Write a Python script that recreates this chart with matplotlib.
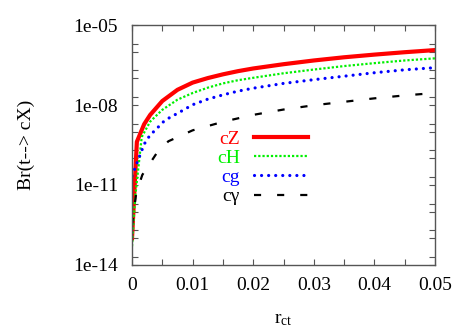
import numpy as np
import matplotlib
matplotlib.use('Agg')
import matplotlib.pyplot as plt
from matplotlib.ticker import FixedLocator, MultipleLocator, NullFormatter

plt.rcParams['font.family'] = ['Liberation Serif', 'DejaVu Serif']
plt.rcParams['font.size'] = 14

# values, as log10(Br)
x_cz = [0, 0.0008, 0.002, 0.003, 0.005, 0.0075, 0.01, 0.0125, 0.015, 0.0175, 0.02, 0.025, 0.03, 0.035, 0.04, 0.045, 0.05]
logbr_cz = [-13.0, -9.38, -8.72, -8.37, -7.85, -7.43, -7.16, -6.99, -6.85, -6.73, -6.63, -6.47, -6.33, -6.21, -6.11, -6.02, -5.94]

x_ch = [0, 0.0005, 0.0016, 0.003, 0.005, 0.0075, 0.01, 0.0125, 0.015, 0.0175, 0.02, 0.025, 0.03, 0.035, 0.04, 0.045, 0.05]
logbr_ch = [-13.3, -11.5, -9.2, -8.62, -8.18, -7.80, -7.55, -7.35, -7.19, -7.07, -6.98, -6.81, -6.67, -6.54, -6.43, -6.33, -6.25]

x_cg = [0, 0.001, 0.002, 0.003, 0.004, 0.005, 0.006, 0.008, 0.01, 0.0125, 0.015, 0.0175, 0.02, 0.025, 0.03, 0.035, 0.04, 0.045, 0.05]
logbr_cg = [-10.66, -10.07, -9.47, -9.12, -8.91, -8.66, -8.50, -8.25, -7.99, -7.78, -7.62, -7.48, -7.37, -7.19, -7.05, -6.92, -6.79, -6.68, -6.60]

x_cgam = [0, 0.0007, 0.0017, 0.004, 0.006, 0.01, 0.015, 0.02, 0.025, 0.03, 0.035, 0.04, 0.045, 0.05]
logbr_cgam = [-12.5, -11.3, -10.62, -9.83, -9.36, -8.95, -8.63, -8.37, -8.17, -8.01, -7.88, -7.75, -7.64, -7.55]

labels = ['cZ', 'cH', 'cg', 'c\u03b3']
colors = ['#ff0000', '#00f000', '#0000ff', '#000000']

fig = plt.figure(figsize=(4.71, 3.30), dpi=100)
ax = fig.add_axes([0.2803, 0.197, 0.6433, 0.7272])

ax.plot(x_cz, np.power(10.0, logbr_cz), color=colors[0], lw=3.0, label=labels[0])
ax.plot(x_ch, np.power(10.0, logbr_ch), color=colors[1], lw=1.6,
        linestyle=(0, (1.0, 0.9)), dash_capstyle='butt', label=labels[1])
ax.plot(x_cg, np.power(10.0, logbr_cg), color=colors[2], lw=2.3,
        linestyle=(0, (0.01, 2.2)), dash_capstyle='round', label=labels[2])
ax.plot(x_cgam, np.power(10.0, logbr_cgam), color=colors[3], lw=1.6,
        linestyle=(0, (3.2, 7.2)), dash_capstyle='butt', label=labels[3])

ax.set_yscale('log')
ax.set_xlim(0, 0.05)
ax.set_ylim(1e-14, 1e-5)
ax.xaxis.set_ticks([0, 0.01, 0.02, 0.03, 0.04, 0.05])
ax.xaxis.set_ticklabels(['0', '0.01', '0.02', '0.03', '0.04', '0.05'])
ax.xaxis.set_minor_locator(MultipleLocator(0.005))

major_y = [1e-14, 1e-11, 1e-8, 1e-5]
minor_y = [m * 10.0 ** e for e in range(-14, -5) for m in (1, 2)]
ax.yaxis.set_major_locator(FixedLocator(major_y))
ax.yaxis.set_minor_locator(FixedLocator(minor_y))
ax.yaxis.set_minor_formatter(NullFormatter())
ax.set_yticklabels(['1e-14', '1e-11', '1e-08', '1e-05'])

ax.tick_params(which='both', direction='in', top=True, right=True,
               length=4, width=0.8, color='#555555')
ax.tick_params(axis='y', which='major', pad=10)
ax.tick_params(axis='x', which='major', pad=9)
for s in ax.spines.values():
    s.set_color('#555555')
    s.set_linewidth(1.0)

ax.set_xlabel(r'$\mathregular{r_{ct}}$')
ax.xaxis.set_label_coords(0.5, -0.19)
ax.set_ylabel('Br(t--> cX)')
ax.yaxis.set_label_coords(-0.32, 0.5)

leg = ax.legend(loc='upper right', bbox_to_anchor=(0.654, 0.605),
                bbox_transform=fig.transFigure, frameon=False,
                markerfirst=False, handlelength=2.8, handletextpad=0.7,
                labelspacing=0.08, borderpad=0, borderaxespad=0)
for t, c in zip(leg.get_texts(), colors):
    t.set_color(c)

fig.savefig('out.png', dpi=100)
